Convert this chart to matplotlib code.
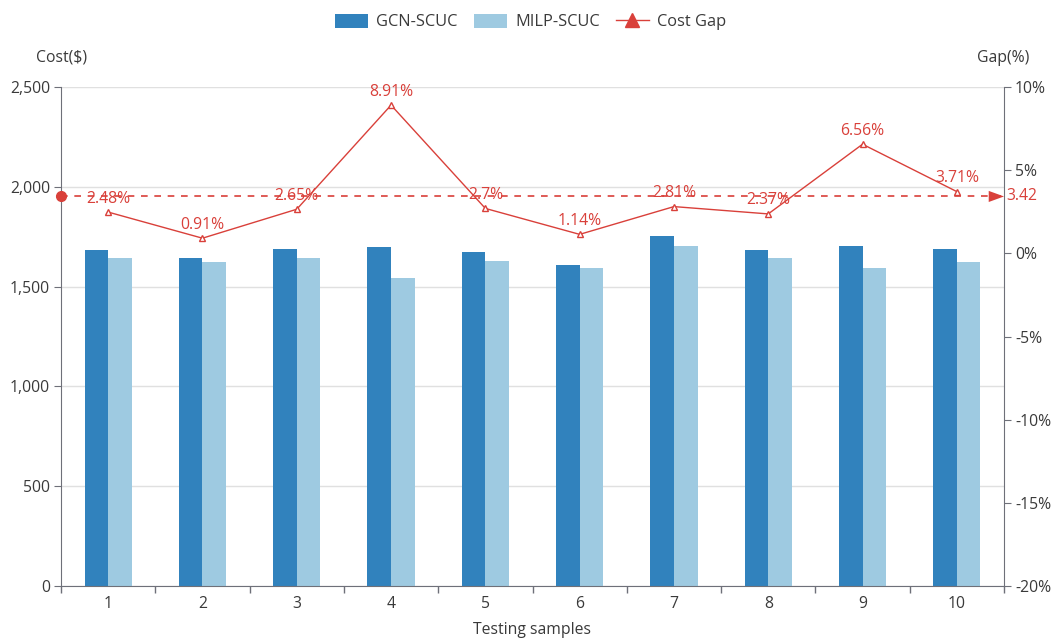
import matplotlib
matplotlib.use("Agg")
import matplotlib.pyplot as plt
from matplotlib.patches import Patch
from matplotlib.lines import Line2D
from matplotlib.ticker import FuncFormatter, FixedLocator
import numpy as np

samples = ["1", "2", "3", "4", "5", "6", "7", "8", "9", "10"]
gcn_cost = [1683, 1642, 1690, 1697, 1673, 1610, 1752, 1683, 1705, 1687]
milp_cost = [1642, 1625, 1645, 1545, 1627, 1592, 1703, 1643, 1592, 1623]
gap_pct = [2.48, 0.91, 2.65, 8.91, 2.7, 1.14, 2.81, 2.37, 6.56, 3.71]
gap_labels = ["2.48%", "0.91%", "2.65%", "8.91%", "2.7%", "1.14%", "2.81%", "2.37%", "6.56%", "3.71%"]
avg_gap = 3.42

C_GCN = "#3182bd"
C_MILP = "#9ecae1"
C_RED = "#d9403a"
C_AX = "#6e7079"
C_TXT = "#3a3a3a"

plt.rcParams['font.family'] = ['Open Sans', 'DejaVu Sans']
fs = 11.3

fig = plt.figure(figsize=(10.55, 6.38), dpi=100)
ax = fig.add_axes([61/1055, 52/638, 943/1055, 499/638])
ax2 = ax.twinx()

x = np.arange(len(samples))
w = 0.25
ax.bar(x - w/2, gcn_cost, width=w, color=C_GCN, zorder=2)
ax.bar(x + w/2, milp_cost, width=w, color=C_MILP, zorder=2)

ax.set_xlim(-0.5, len(samples) - 0.5)
ax.set_ylim(0, 2500)
ax.set_yticks([0, 500, 1000, 1500, 2000, 2500])
ax.yaxis.set_major_formatter(FuncFormatter(lambda v, p: f"{int(v):,}"))
ax.grid(axis='y', color='#e0e0e0', lw=1, zorder=0)
ax.set_axisbelow(True)

ax.xaxis.set_major_locator(FixedLocator(np.arange(-0.5, len(samples), 1.0)))
ax.xaxis.set_minor_locator(FixedLocator(x))
ax.set_xticklabels([])
ax.set_xticklabels(samples, minor=True)
ax.tick_params(axis='x', which='major', length=5, color=C_AX, width=1)
ax.tick_params(axis='x', which='minor', length=0, pad=7, labelsize=fs, labelcolor=C_TXT)
ax.tick_params(axis='y', length=5, color=C_AX, labelsize=fs, labelcolor=C_TXT, pad=3)

for s in ['top', 'right']:
    ax.spines[s].set_visible(False)
ax.spines['left'].set_color(C_AX)
ax.spines['bottom'].set_color(C_AX)

# right axis
ax2.set_ylim(-20, 10)
ax2.set_yticks([-20, -15, -10, -5, 0, 5, 10])
ax2.yaxis.set_major_formatter(FuncFormatter(lambda v, p: f"{int(v)}%"))
ax2.tick_params(axis='y', length=5, color=C_AX, labelsize=fs, labelcolor=C_TXT, pad=3)
for s in ['top', 'left', 'bottom']:
    ax2.spines[s].set_visible(False)
ax2.spines['right'].set_color(C_AX)

ax2.plot(x, gap_pct, color=C_RED, lw=1, marker='^', ms=4, mfc='white', mec=C_RED, mew=1, zorder=3)
for xi, v, lab in zip(x, gap_pct, gap_labels):
    ax2.annotate(lab, (xi, v), xytext=(0, 4), textcoords='offset points', ha='center', va='bottom',
                 color=C_RED, fontsize=fs)

# average mark line
ax2.axhline(avg_gap, color=C_RED, lw=1.2, ls=(0, (4, 4)), zorder=3)
ax2.plot([-0.5], [avg_gap], marker='o', color=C_RED, ms=7, clip_on=False, zorder=4)
ax2.annotate('', xy=(len(samples) - 0.5, avg_gap), xytext=(len(samples) - 0.72, avg_gap),
             arrowprops=dict(arrowstyle='-|>,head_length=1.1,head_width=0.4', color=C_RED, lw=0,
                             shrinkA=0, shrinkB=0), annotation_clip=False, zorder=4)
ax2.annotate(f"{avg_gap}", (len(samples) - 0.5, avg_gap), xytext=(2, 0), textcoords='offset points',
             ha='left', va='center', color=C_RED, fontsize=fs, annotation_clip=False)

# axis names
fig.text(62/1055, 1 - 58/638, "Cost($)", ha='center', va='center', fontsize=fs, color=C_TXT)
fig.text(1003/1055, 1 - 58/638, "Gap(%)", ha='center', va='center', fontsize=fs, color=C_TXT)
fig.text(532/1055, 1 - 630/638, "Testing samples", ha='center', va='center', fontsize=fs, color=C_TXT)

handles = [Patch(facecolor=C_GCN, edgecolor='none'),
           Patch(facecolor=C_MILP, edgecolor='none'),
           Line2D([0], [0], color=C_RED, lw=1, marker='^', ms=10, mfc=C_RED, mec=C_RED)]
fig.legend(handles, ["GCN-SCUC", "MILP-SCUC", "Cost Gap"], loc='center', bbox_to_anchor=(0.503, 1 - 22/638),
           ncol=3, frameon=False, fontsize=11.8, handlelength=2.0, handleheight=1.0, columnspacing=1.0,
           handletextpad=0.5, labelcolor=C_TXT)

fig.savefig("out.png", dpi=100)
